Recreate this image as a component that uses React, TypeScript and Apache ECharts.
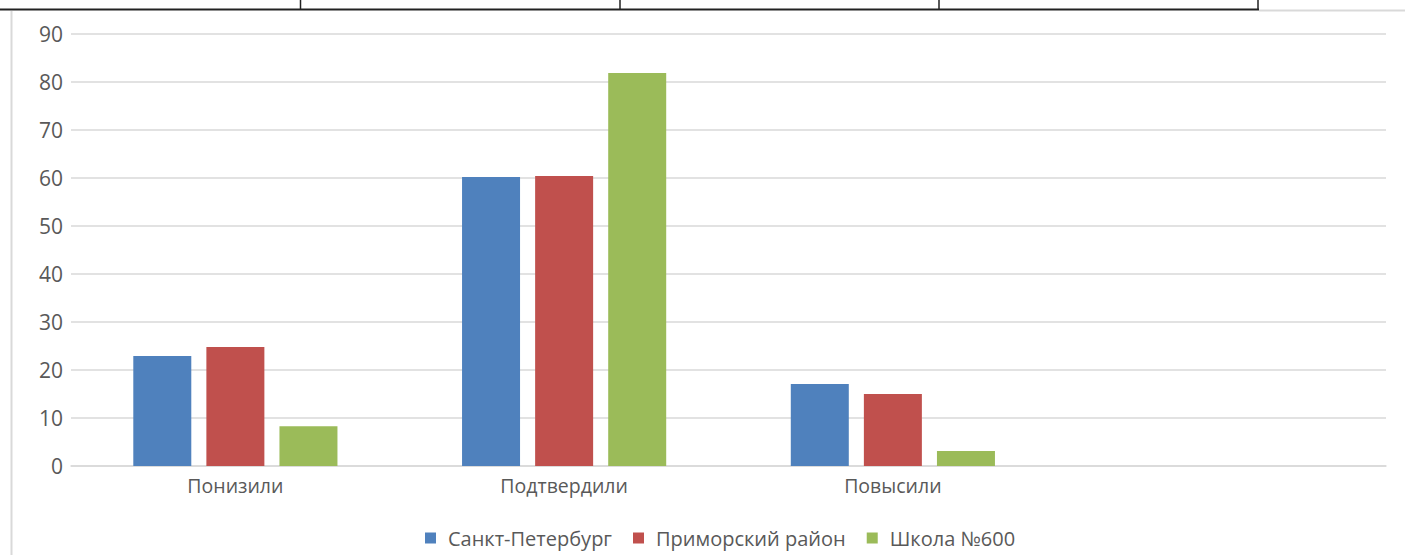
import React, { useEffect, useRef } from "react";
import * as echarts from "echarts";

const categories = ["Понизили", "Подтвердили", "Повысили", ""];
const seriesNames = ["Санкт-Петербург", "Приморский район", "Школа №600"];
const spbValues = [22.9, 60.2, 17.1, null];
const districtValues = [24.8, 60.4, 15.0, null];
const schoolValues = [8.3, 81.9, 3.1, null];
const colors = ["#4F81BD", "#C0504D", "#9BBB59"];
const yTicks = { min: 0, max: 90, interval: 10 };

export default function App() {
  const ref = useRef<HTMLDivElement>(null);
  useEffect(() => {
    document.body.style.margin = "0";
    const chart = echarts.init(ref.current!, null, { renderer: "svg" });
    const font = "Open Sans";
    const data = [spbValues, districtValues, schoolValues];
    chart.setOption({
      animation: false,
      backgroundColor: "#ffffff",
      textStyle: { fontFamily: font },
      grid: { left: 71, right: 19, top: 34, bottom: 89, containLabel: false },
      legend: {
        bottom: 2,
        left: 420,
        itemWidth: 11,
        itemHeight: 11,
        itemGap: 21,
        icon: "rect",
        textStyle: { fontSize: 20, color: "#595959", fontFamily: font, padding: [0, 0, 0, 7] },
        data: seriesNames,
      },
      xAxis: {
        type: "category",
        data: categories,
        axisLine: { lineStyle: { color: "#D9D9D9", width: 1.5 } },
        axisTick: { show: false },
        axisLabel: { fontSize: 19.5, color: "#595959", margin: 9, fontFamily: font },
      },
      yAxis: {
        type: "value",
        min: yTicks.min,
        max: yTicks.max,
        interval: yTicks.interval,
        axisLine: { show: false },
        axisTick: { show: false },
        splitLine: { lineStyle: { color: "#D9D9D9", width: 1.5 } },
        axisLabel: { fontSize: 21, color: "#595959", margin: 8, fontFamily: font },
      },
      series: seriesNames.map((name, i) => ({
        name,
        type: "bar",
        data: data[i],
        barWidth: 58,
        barGap: "26%",
        itemStyle: { color: colors[i] },
      })),
      graphic: [
        { type: "line", shape: { x1: 0, y1: 9.5, x2: 1259, y2: 9.5 }, style: { stroke: "#222", lineWidth: 2 } },
        { type: "line", shape: { x1: 1259, y1: 10.5, x2: 1405, y2: 10.5 }, style: { stroke: "#D9D9D9", lineWidth: 2 } },
        { type: "line", shape: { x1: 300.5, y1: 0, x2: 300.5, y2: 9 }, style: { stroke: "#222", lineWidth: 1.5 } },
        { type: "line", shape: { x1: 620, y1: 0, x2: 620, y2: 9 }, style: { stroke: "#222", lineWidth: 1.5 } },
        { type: "line", shape: { x1: 939, y1: 0, x2: 939, y2: 9 }, style: { stroke: "#222", lineWidth: 1.5 } },
        { type: "line", shape: { x1: 1258, y1: 0, x2: 1258, y2: 10 }, style: { stroke: "#222", lineWidth: 1.5 } },
        { type: "line", shape: { x1: 11.5, y1: 11, x2: 11.5, y2: 555 }, style: { stroke: "#D9D9D9", lineWidth: 2 } },
      ],
    });
    return () => chart.dispose();
  }, []);
  return <div ref={ref} style={{ width: 1405, height: 555 }} />;
}
